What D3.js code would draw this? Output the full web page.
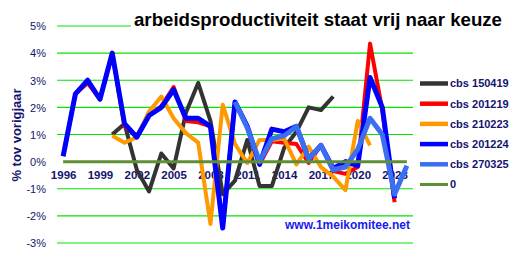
<!DOCTYPE html>
<html><head><meta charset="utf-8">
<script src="https://cdn.jsdelivr.net/npm/d3@7"></script>
<style>html,body{margin:0;padding:0;background:#fff;}svg{display:block;font-family:Arial,"Liberation Sans",sans-serif;}</style>
</head><body><svg id="c" width="524" height="258"></svg>
<script>
const years = d3.range(1996, 2025);
const yTicks = [5,4,3,2,1,0,-1,-2,-3];
const xTickYears = [1996,1999,2002,2005,2008,2011,2014,2017,2020,2023];
const seriesNames = ["cbs 150419","cbs 201219","cbs 210223","cbs 201224","cbs 270325","0"];
const seriesColors = ["#333333","#ff0000","#ff9900","#0000ff","#3b6ef0","#5f8f35"];
const N = null;
// values 1996..2024
const cbs150419 = [N,N,N,N,1.0,1.4,-0.3,-1.1,0.3,-0.25,1.8,2.9,1.5,-1.2,-0.7,0.8,-0.9,-0.9,0.5,1.1,2.0,1.9,2.4,N,N,N,N,N,N];
const cbs201219 = [0.2,2.5,2.9,2.3,4.0,1.3,0.95,1.7,2.05,2.75,1.5,1.45,1.3,-2.4,2.2,1.3,-0.1,0.75,0.7,0.65,-0.05,0.6,-0.35,-0.45,-0.2,4.35,1.9,-1.5,N];
const cbs210223 = [N,N,N,N,0.95,0.7,0.9,1.85,2.4,1.6,1.05,0.7,-2.3,2.1,0.65,-0.05,0.8,0.8,0.85,-0.1,0.55,-0.2,-0.55,-1.05,1.5,0.6,N,N,N];
const cbs201224 = [0.2,2.5,3.0,2.3,4.0,1.4,0.9,1.7,2.0,2.65,1.6,1.6,1.3,-2.45,2.2,1.3,-0.1,1.2,1.1,1.3,0.1,0.6,-0.25,0.0,-0.15,3.1,2.0,-1.35,N];
const cbs270325 = [N,N,N,N,N,N,N,N,N,N,N,N,N,N,2.2,1.25,0.0,0.85,0.95,1.3,0.1,0.6,-0.3,-0.2,0.45,1.6,1.0,-1.2,-0.15];
const zeroLine = years.map(() => 0);
const allSeries = [cbs150419,cbs201219,cbs210223,cbs201224,cbs270325,zeroLine];
const widths = [4,4,4,5,5,3];

const svg = d3.select("#c");
const x = d3.scalePoint().domain(years).range([57,413]).padding(0.5);
const y = d3.scaleLinear().domain([-3,5]).range([243,26]);
const navy = "#14146e";

// gridlines
svg.append("g").selectAll("line").data(yTicks.filter(d=>d!==0)).join("line")
  .attr("x1",57).attr("x2",413).attr("y1",d=>y(d)).attr("y2",d=>y(d))
  .attr("stroke","#00e600").attr("stroke-width",1.2);

// y axis labels
const yAxis = d3.axisLeft(y).tickValues(yTicks).tickFormat(d=>d+"%").tickSize(0).tickPadding(0);
const ya = svg.append("g").attr("transform","translate(46,0)").call(yAxis);
ya.select(".domain").remove();
ya.selectAll("text").attr("fill",navy).attr("font-size",11).attr("font-family","Arial, Liberation Sans, sans-serif").attr("dy","0.35em");

// x axis labels
const xAxis = d3.axisBottom(x).tickValues(xTickYears).tickSize(0).tickPadding(0);
const xa = svg.append("g").attr("transform","translate(0,171)").call(xAxis);
xa.select(".domain").remove();
xa.selectAll("text").attr("fill",navy).attr("font-size",11.5).attr("font-weight","bold").attr("font-family","Arial, Liberation Sans, sans-serif").attr("dy","0.71em");

// y title
svg.append("text").attr("transform","translate(21,135) rotate(-90)")
  .attr("text-anchor","middle").attr("font-size",13).attr("font-weight","bold").attr("fill",navy)
  .text("% tov vorigjaar");

// series
const line = d3.line().defined(d=>d.v!==null).x(d=>x(d.yr)).y(d=>y(d.v));
allSeries.forEach((s,i)=>{
  svg.append("path").datum(s.map((v,j)=>({yr:years[j],v:v})))
    .attr("d",line).attr("fill","none").attr("stroke",seriesColors[i])
    .attr("stroke-width",widths[i]).attr("stroke-linejoin","round").attr("stroke-linecap","butt");
});

// title with white box
svg.append("rect").attr("x",131).attr("y",8).attr("width",376).attr("height",23).attr("fill","#fff");
svg.append("text").attr("x",318).attr("y",26).attr("text-anchor","middle")
  .attr("font-size",18.5).attr("font-weight","bold").attr("fill","#000")
  .attr("textLength",368).attr("lengthAdjust","spacingAndGlyphs")
  .text("arbeidsproductiviteit staat vrij naar keuze");

// legend
const lg = svg.append("g");
seriesNames.forEach((n,i)=>{
  const ly = 83.5 + i*20.2;
  lg.append("line").attr("x1",420).attr("x2",448).attr("y1",ly).attr("y2",ly)
    .attr("stroke",seriesColors[i]).attr("stroke-width",i===5?3:4.5);
  lg.append("text").attr("x",450).attr("y",ly).attr("dy","0.35em")
    .attr("font-size",11).attr("font-weight","bold").attr("fill",navy).text(n);
});

// watermark
svg.append("text").attr("x",285).attr("y",229).attr("font-size",12).attr("font-weight","bold")
  .attr("fill","#1a1aee").text("www.1meikomitee.net");
</script></body></html>
